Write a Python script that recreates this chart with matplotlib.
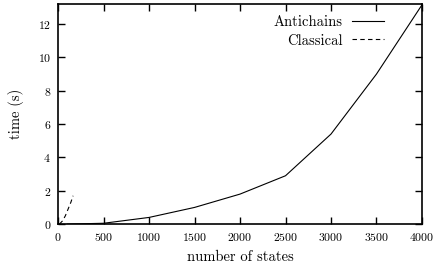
import matplotlib
matplotlib.use("Agg")
import matplotlib.pyplot as plt

plt.rcParams['font.family'] = ['cmr10', 'DejaVu Serif']
plt.rcParams['axes.formatter.use_mathtext'] = True
plt.rcParams['mathtext.fontset'] = 'cm'

# Antichains run times
anti_states = [100, 500, 1000, 1500, 2000, 2500, 3000, 3500, 4000]
anti_time = [0.0, 0.05, 0.4, 1.0, 1.8, 2.9, 5.4, 9.0, 13.15]

# Classical run times
class_states = [15, 50, 80, 110, 140, 165]
class_time = [0.0, 0.2, 0.5, 0.9, 1.3, 1.7]

fig = plt.figure(figsize=(4.4, 2.7), dpi=100)
ax = fig.add_axes([0.132, 0.170, 0.827, 0.815])

ax.plot(anti_states, anti_time, color='black', lw=0.8, label='Antichains')
ax.plot(class_states, class_time, color='black', lw=0.8, ls=(0, (4, 3)), label='Classical')

ax.set_xlim(0, 4000)
ax.set_ylim(0, 13.2)
ax.set_xticks(range(0, 4001, 500))
ax.set_yticks(range(0, 13, 2))
ax.tick_params(direction='in', top=True, right=True, length=5, width=1.0, labelsize=8.5, pad=5)
for s in ax.spines.values():
    s.set_linewidth(1.2)

ax.set_xlabel("number of states", fontsize=10.5, labelpad=5)
ax.set_ylabel("time (s)", fontsize=10.5, labelpad=10)

ax.legend(loc='upper right', bbox_to_anchor=(0.895, 0.95), frameon=False,
          markerfirst=False, fontsize=10.5, handlelength=2.2, handletextpad=0.6,
          borderaxespad=0, labelspacing=0.35, borderpad=0)

fig.savefig("out.png", dpi=100)
